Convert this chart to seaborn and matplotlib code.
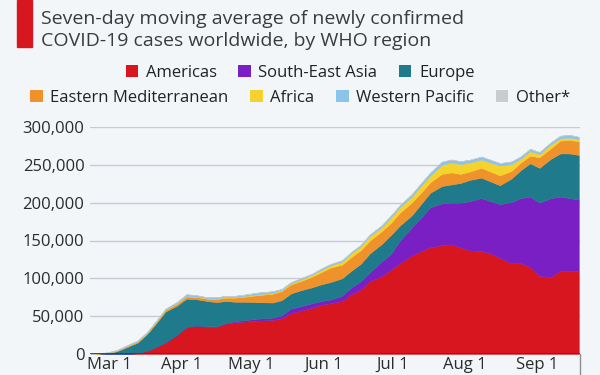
import numpy as np
import pandas as pd
import matplotlib
matplotlib.use("Agg")
import matplotlib.pyplot as plt
from matplotlib.patches import Patch, Rectangle
from matplotlib.lines import Line2D
from matplotlib.ticker import FuncFormatter
import seaborn as sns

# ---------------- data (thousands of cases, 7-day average) ----------------
dates = ["2020-02-22", "2020-02-29", "2020-03-04", "2020-03-08", "2020-03-13",
         "2020-03-17", "2020-03-21", "2020-03-25", "2020-03-30", "2020-04-03",
         "2020-04-07", "2020-04-12", "2020-04-16", "2020-04-20", "2020-04-24",
         "2020-04-29", "2020-05-03", "2020-05-10", "2020-05-14", "2020-05-18",
         "2020-05-22", "2020-05-27", "2020-05-31", "2020-06-04", "2020-06-09",
         "2020-06-13", "2020-06-17", "2020-06-21", "2020-06-26", "2020-06-30",
         "2020-07-04", "2020-07-09", "2020-07-13", "2020-07-17", "2020-07-22",
         "2020-07-26", "2020-07-30", "2020-08-03", "2020-08-08", "2020-08-12",
         "2020-08-16", "2020-08-21", "2020-08-25", "2020-08-29", "2020-09-02",
         "2020-09-07", "2020-09-11", "2020-09-15", "2020-09-19"]

americas = [0, 0, 0.1, 0.2, 1, 4, 9, 15, 25, 35, 37, 36, 36, 40, 42, 43, 44, 45,
            47, 54, 57, 61, 65, 67, 70, 79, 85, 96, 103, 111, 120, 130, 136, 141,
            144, 145, 141, 137, 136, 133, 127, 120, 120, 115, 103, 102, 110, 110, 110]
south_east_asia = [0, 0, 0, 0, 0, 0.1, 0.1, 0.2, 0.3, 0.5, 0.5, 0.6, 0.8, 1, 1.5,
                   2, 2.5, 3, 4, 6, 6, 6, 5, 5, 7, 9, 11, 12, 19, 21, 30, 37, 44,
                   53, 55, 55, 59, 65, 70, 69, 71, 81, 86, 93, 97, 104, 98, 96, 94]
europe = [0.1, 1.0, 3.4, 8.3, 14, 21.9, 31.4, 40.8, 38.7, 37.5, 35, 33.4, 31.7,
          29, 25.5, 24, 22, 20, 20, 20, 21, 21, 22, 23, 23, 22, 23, 25, 23, 25,
          20, 16, 18, 19, 23, 24, 26, 28, 27, 26, 25, 31, 37, 44, 46, 52, 57, 59, 59]
eastern_med = [0, 0.4, 0.8, 1.3, 1.5, 1.5, 2.0, 2.3, 2.5, 3, 3, 3, 4, 4.5, 5.5, 7,
               9, 11.5, 12, 12, 12, 14, 16, 19, 18, 18, 18, 17, 17, 16, 17, 17, 15,
               14, 16, 16, 12, 11, 13, 13, 13, 10, 10, 10, 14, 14, 17, 18, 18]
africa = [0, 0, 0, 0, 0.1, 0.2, 0.3, 0.4, 0.5, 0.6, 0.5, 0.6, 0.7, 0.8, 0.8, 1, 1,
          1.2, 1.3, 1.5, 1.8, 2.5, 3, 3, 4, 5, 5, 6, 5, 7, 7, 8, 9, 9, 12, 13, 13,
          12, 11, 12, 13, 9, 5, 6, 4, 5, 3, 3, 3]
western_pacific = [0.4, 0.7, 0.9, 1.1, 1.3, 1.2, 1.1, 1.2, 1.9, 2.3, 1.9, 1.3, 1.7,
                   1.6, 1.6, 1.9, 2.4, 2.2, 1.6, 1.4, 2.1, 1.4, 1.9, 1.9, 1.9, 1.9,
                   2.0, 2.1, 2.9, 2.9, 3.0, 3.2, 3.6, 3.9, 4.1, 4.0, 3.8, 3.7, 3.9,
                   3.6, 3.4, 3.5, 3.3, 3.1, 2.9, 3.0, 3.5, 3.6, 2.9]
other = [0.1, 0.1, 0.1, 0.1, 0.1, 0.1, 0.1, 0.1, 0.1, 0.1, 0.1, 0.1, 0.1, 0.1,
         0.1, 0.1, 0.1, 0.1, 0.1, 0.1, 0.1, 0.1, 0.1, 0.1, 0.1, 0.1, 0.1, 0.1,
         0.1, 0.1, 0.1, 0.1, 0.1, 0.1, 0.1, 0.1, 0.1, 0.1, 0.1, 0.1, 0.1, 0.1,
         0.1, 0.1, 0.1, 0.1, 0.1, 0.1, 0.1]

regions = ["Americas", "South-East Asia", "Europe", "Eastern Mediterranean",
           "Africa", "Western Pacific", "Other*"]
series = [americas, south_east_asia, europe, eastern_med, africa,
          western_pacific, other]
colors = ["#d7161f", "#7a1fc3", "#1f7a8b", "#f0922c", "#f6d22c", "#8bc3ea", "#c9cbcd"]

yticks = [0, 50000, 100000, 150000, 200000, 250000, 300000]
month_ticks = ["2020-03-01", "2020-04-01", "2020-05-01", "2020-06-01",
               "2020-07-01", "2020-08-01", "2020-09-01"]
month_labels = ["Mar 1", "Apr 1", "May 1", "Jun 1", "Jul 1", "Aug 1", "Sep 1"]

# ---------------- style ----------------
BG = "#f3f6f9"
sns.set_theme(style="white", rc={"figure.facecolor": BG, "axes.facecolor": BG,
                                 "savefig.facecolor": BG})
plt.rcParams["font.family"] = ["Open Sans", "DejaVu Sans"]

fig = plt.figure(figsize=(6, 3.75), dpi=100)
ax = fig.add_axes([90 / 600, 1 - 354 / 375, 490 / 600, 227 / 375])

x = pd.to_datetime(dates)
ys = [np.asarray(s, dtype=float) * 1000 for s in series]
polys = ax.stackplot(x, *ys, colors=colors, linewidth=0, zorder=2)
for p, c in zip(polys, colors):
    p.set_edgecolor(c)
    p.set_linewidth(0.3)

# axes & grid
ax.set_ylim(0, 300000)
ax.set_xlim(pd.Timestamp("2020-02-21 12:00"), pd.Timestamp("2020-09-19 12:00"))
ax.set_yticks(yticks)
ax.yaxis.set_major_formatter(FuncFormatter(lambda v, p: f"{int(v):,}"))
ax.set_xticks(pd.to_datetime(month_ticks))
ax.set_xticklabels(month_labels)
ax.grid(axis="y", color="#c6cbd1", linewidth=1.0, zorder=0)
ax.grid(axis="x", visible=False)
for s in ax.spines.values():
    s.set_visible(False)
ax.axhline(0, color="#3d3d3d", linewidth=1.3, zorder=3)
ax.add_line(Line2D([1, 1], [0, -0.12], transform=ax.transAxes, color="#8a8f94",
                   linewidth=1.0, clip_on=False))
ax.tick_params(axis="both", length=0, labelsize=12, colors="#2b2b2b")
ax.tick_params(axis="y", pad=4)
ax.tick_params(axis="x", pad=2)

# title with red bar
fig.patches.append(Rectangle((17 / 600, 1 - 47 / 375), 15 / 600, 47 / 375,
                             transform=fig.transFigure, color="#d7161f"))
fig.text(41 / 600, 1 - 24 / 375, "Seven-day moving average of newly confirmed",
         fontsize=14, color="#3b3b3b", ha="left", va="baseline")
fig.text(41 / 600, 1 - 46 / 375, "COVID-19 cases worldwide, by WHO region",
         fontsize=14, color="#3b3b3b", ha="left", va="baseline")

# legend (two centered rows)
handles = [Patch(facecolor=c, edgecolor="none") for c in colors]
fig.legend(handles[:3], regions[:3], loc="center", ncol=3,
           bbox_to_anchor=(0.5, 1 - 73 / 375), frameon=False, fontsize=12,
           handlelength=0.75, handleheight=0.75, handletextpad=0.45,
           columnspacing=1.3, labelcolor="#222222", borderpad=0)
fig.legend(handles[3:], regions[3:], loc="center", ncol=4,
           bbox_to_anchor=(0.5, 1 - 98 / 375), frameon=False, fontsize=12,
           handlelength=0.75, handleheight=0.75, handletextpad=0.45,
           columnspacing=1.3, labelcolor="#222222", borderpad=0)

fig.savefig("out.png", dpi=100, facecolor=BG)
